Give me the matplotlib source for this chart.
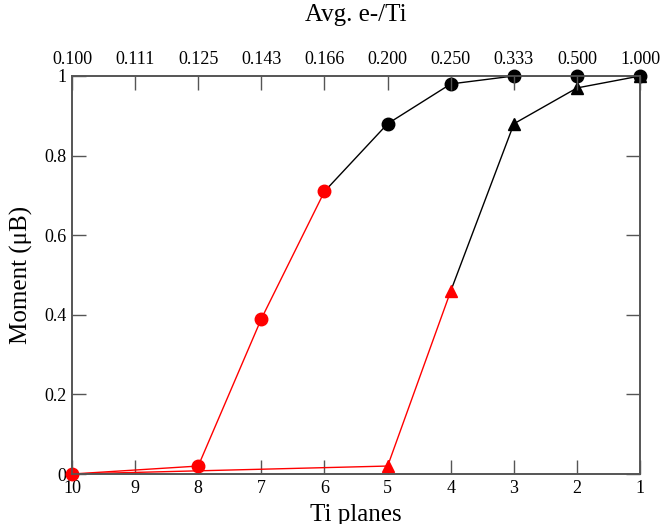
import matplotlib
matplotlib.use("Agg")
import matplotlib.pyplot as plt

ti_planes = [10, 9, 8, 7, 6, 5, 4, 3, 2, 1]
top_labels = ["0.100", "0.111", "0.125", "0.143", "0.166", "0.200", "0.250", "0.333", "0.500", "1.000"]

circ_red_x = [10, 8, 7, 6]
circ_red_y = [0.0, 0.02, 0.39, 0.71]
circ_blk_x = [6, 5, 4, 3, 2, 1]
circ_blk_y = [0.71, 0.88, 0.98, 1.0, 1.0, 1.0]

tri_red_x = [10, 5, 4]
tri_red_y = [0.0, 0.02, 0.46]
tri_blk_x = [4, 3, 2, 1]
tri_blk_y = [0.46, 0.88, 0.97, 1.0]

plt.rcParams['font.family'] = ['Liberation Serif', 'DejaVu Serif']

fig = plt.figure(figsize=(6.6, 5.24), dpi=100)
ax = fig.add_axes([0.109, 0.0954, 0.861, 0.7596])

ms = 9
# black segments
ax.plot(tri_blk_x, tri_blk_y, color='black', lw=1, zorder=2)
ax.plot(circ_blk_x, circ_blk_y, color='black', lw=1, zorder=2)
# red segments
ax.plot(tri_red_x, tri_red_y, color='red', lw=1, zorder=2)
ax.plot(circ_red_x, circ_red_y, color='red', lw=1, zorder=2)
# markers
ax.plot(tri_blk_x[1:], tri_blk_y[1:], ls='none', marker='^', ms=ms, color='black', zorder=3, clip_on=False)
ax.plot(tri_red_x[1:], tri_red_y[1:], ls='none', marker='^', ms=ms, color='red', zorder=3, clip_on=False)
ax.plot(circ_blk_x[1:], circ_blk_y[1:], ls='none', marker='o', ms=ms, color='black', zorder=4, clip_on=False)
ax.plot(circ_red_x, circ_red_y, ls='none', marker='o', ms=ms, color='red', zorder=4, clip_on=False)

ax.set_xlim(10, 1)
ax.set_ylim(0, 1)
ax.set_xticks(ti_planes)
ax.set_xticklabels([str(v) for v in ti_planes])
ax.set_yticks([0, 0.2, 0.4, 0.6, 0.8, 1.0])
ax.set_yticklabels(["0", "0.2", "0.4", "0.6", "0.8", "1"])

for s in ax.spines.values():
    s.set_color('#555555')
    s.set_linewidth(1.2)

ax.tick_params(direction='in', length=10, width=1, colors='#555555', labelcolor='black',
               labelsize=13, right=True, pad=4)
ax.set_xlabel("Ti planes", fontsize=18, labelpad=5)
ax.set_ylabel("Moment (μB)", fontsize=18, labelpad=8)

ax2 = ax.twiny()
ax2.set_xlim(ax.get_xlim())
ax2.set_xticks(ti_planes)
ax2.set_xticklabels(top_labels)
ax2.tick_params(direction='in', length=10, width=1, colors='#555555', labelcolor='black',
                labelsize=13, pad=6)
ax2.set_xlabel("Avg. e-/Ti", fontsize=18, labelpad=21)
for s in ax2.spines.values():
    s.set_color('#555555')
    s.set_linewidth(1.2)

fig.savefig("out.png", dpi=100)
